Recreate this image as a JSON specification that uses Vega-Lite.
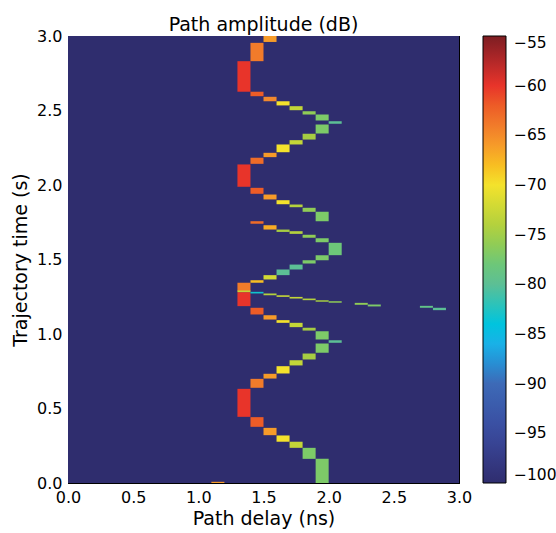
{
  "$schema": "https://vega.github.io/schema/vega-lite/v6.json",
  "width": 391,
  "height": 447,
  "autosize": {"type": "none"},
  "padding": {"left": 68, "top": 36, "right": 97, "bottom": 50},
  "background": "white",
  "config": {
    "font": "DejaVu Sans",
    "view": {"stroke": "black", "strokeWidth": 1},
    "axis": {"grid": false, "domainColor": "black", "tickColor": "black", "labelColor": "black", "titleColor": "black", "titleFontWeight": "normal", "labelFontSize": 16, "titleFontSize": 19, "labelFlush": false, "labelOverlap": false}
  },
  "title": {"text": "Path amplitude (dB)", "fontSize": 19, "fontWeight": "normal", "color": "black", "offset": -7, "anchor": "middle", "font": "DejaVu Sans"},
  "data": {"values": [
    {"x0": 0, "x1": 3, "t0": 0, "t1": 3, "db": -100},
    {"x0": 1.5, "x1": 1.6, "t0": 2.96, "t1": 3.0, "db": -66},
    {"x0": 1.4, "x1": 1.5, "t0": 2.831, "t1": 2.954, "db": -64},
    {"x0": 1.3, "x1": 1.4, "t0": 2.626, "t1": 2.831, "db": -60},
    {"x0": 1.4, "x1": 1.5, "t0": 2.596, "t1": 2.626, "db": -62},
    {"x0": 1.5, "x1": 1.6, "t0": 2.562, "t1": 2.592, "db": -65},
    {"x0": 1.6, "x1": 1.7, "t0": 2.534, "t1": 2.562, "db": -70},
    {"x0": 1.7, "x1": 1.8, "t0": 2.502, "t1": 2.529, "db": -73},
    {"x0": 1.8, "x1": 1.9, "t0": 2.473, "t1": 2.495, "db": -76},
    {"x0": 1.9, "x1": 2.0, "t0": 2.433, "t1": 2.473, "db": -77},
    {"x0": 2.0, "x1": 2.1, "t0": 2.411, "t1": 2.428, "db": -80},
    {"x0": 1.9, "x1": 2.0, "t0": 2.346, "t1": 2.406, "db": -77},
    {"x0": 1.8, "x1": 1.9, "t0": 2.305, "t1": 2.344, "db": -75},
    {"x0": 1.7, "x1": 1.8, "t0": 2.272, "t1": 2.301, "db": -73},
    {"x0": 1.6, "x1": 1.7, "t0": 2.22, "t1": 2.272, "db": -70},
    {"x0": 1.5, "x1": 1.6, "t0": 2.187, "t1": 2.216, "db": -66},
    {"x0": 1.4, "x1": 1.5, "t0": 2.142, "t1": 2.183, "db": -63},
    {"x0": 1.3, "x1": 1.4, "t0": 1.988, "t1": 2.138, "db": -60},
    {"x0": 1.4, "x1": 1.5, "t0": 1.941, "t1": 1.981, "db": -62},
    {"x0": 1.5, "x1": 1.6, "t0": 1.903, "t1": 1.936, "db": -66},
    {"x0": 1.6, "x1": 1.7, "t0": 1.871, "t1": 1.898, "db": -70},
    {"x0": 1.7, "x1": 1.8, "t0": 1.851, "t1": 1.869, "db": -74},
    {"x0": 1.8, "x1": 1.9, "t0": 1.82, "t1": 1.847, "db": -76},
    {"x0": 1.9, "x1": 2.0, "t0": 1.757, "t1": 1.82, "db": -77},
    {"x0": 1.4, "x1": 1.5, "t0": 1.74, "t1": 1.757, "db": -63},
    {"x0": 1.5, "x1": 1.6, "t0": 1.701, "t1": 1.73, "db": -67},
    {"x0": 1.6, "x1": 1.7, "t0": 1.685, "t1": 1.701, "db": -75},
    {"x0": 1.7, "x1": 1.8, "t0": 1.672, "t1": 1.69, "db": -74},
    {"x0": 1.8, "x1": 1.9, "t0": 1.646, "t1": 1.666, "db": -76},
    {"x0": 1.9, "x1": 2.0, "t0": 1.616, "t1": 1.643, "db": -77},
    {"x0": 2.0, "x1": 2.1, "t0": 1.529, "t1": 1.612, "db": -78},
    {"x0": 1.9, "x1": 2.0, "t0": 1.495, "t1": 1.529, "db": -77},
    {"x0": 1.8, "x1": 1.9, "t0": 1.473, "t1": 1.495, "db": -77},
    {"x0": 1.7, "x1": 1.8, "t0": 1.433, "t1": 1.466, "db": -80},
    {"x0": 1.6, "x1": 1.7, "t0": 1.395, "t1": 1.433, "db": -80},
    {"x0": 1.5, "x1": 1.6, "t0": 1.366, "t1": 1.395, "db": -72},
    {"x0": 1.4, "x1": 1.5, "t0": 1.344, "t1": 1.361, "db": -68},
    {"x0": 1.3, "x1": 1.4, "t0": 1.287, "t1": 1.344, "db": -64},
    {"x0": 1.3, "x1": 1.4, "t0": 1.187, "t1": 1.281, "db": -60},
    {"x0": 1.3, "x1": 1.4, "t0": 1.281, "t1": 1.292, "db": -73},
    {"x0": 1.4, "x1": 1.5, "t0": 1.272, "t1": 1.283, "db": -83},
    {"x0": 1.5, "x1": 1.6, "t0": 1.26, "t1": 1.272, "db": -74},
    {"x0": 1.6, "x1": 1.7, "t0": 1.249, "t1": 1.26, "db": -73},
    {"x0": 1.7, "x1": 1.8, "t0": 1.238, "t1": 1.249, "db": -73},
    {"x0": 1.8, "x1": 1.9, "t0": 1.227, "t1": 1.238, "db": -74},
    {"x0": 1.9, "x1": 2.0, "t0": 1.216, "t1": 1.227, "db": -75},
    {"x0": 2.0, "x1": 2.1, "t0": 1.21, "t1": 1.22, "db": -76},
    {"x0": 2.2, "x1": 2.3, "t0": 1.196, "t1": 1.209, "db": -76},
    {"x0": 2.3, "x1": 2.4, "t0": 1.185, "t1": 1.198, "db": -77},
    {"x0": 2.7, "x1": 2.8, "t0": 1.176, "t1": 1.189, "db": -79},
    {"x0": 2.8, "x1": 2.9, "t0": 1.16, "t1": 1.176, "db": -80},
    {"x0": 1.4, "x1": 1.5, "t0": 1.131, "t1": 1.176, "db": -62},
    {"x0": 1.5, "x1": 1.6, "t0": 1.097, "t1": 1.126, "db": -66},
    {"x0": 1.6, "x1": 1.7, "t0": 1.075, "t1": 1.093, "db": -70},
    {"x0": 1.7, "x1": 1.8, "t0": 1.046, "t1": 1.075, "db": -73},
    {"x0": 1.8, "x1": 1.9, "t0": 1.023, "t1": 1.042, "db": -75},
    {"x0": 1.9, "x1": 2.0, "t0": 0.963, "t1": 1.019, "db": -77},
    {"x0": 2.0, "x1": 2.1, "t0": 0.941, "t1": 0.958, "db": -80},
    {"x0": 1.9, "x1": 2.0, "t0": 0.874, "t1": 0.936, "db": -77},
    {"x0": 1.8, "x1": 1.9, "t0": 0.829, "t1": 0.869, "db": -75},
    {"x0": 1.7, "x1": 1.8, "t0": 0.789, "t1": 0.824, "db": -73},
    {"x0": 1.6, "x1": 1.7, "t0": 0.735, "t1": 0.784, "db": -70},
    {"x0": 1.5, "x1": 1.6, "t0": 0.701, "t1": 0.733, "db": -66},
    {"x0": 1.4, "x1": 1.5, "t0": 0.639, "t1": 0.699, "db": -64},
    {"x0": 1.3, "x1": 1.4, "t0": 0.444, "t1": 0.632, "db": -60},
    {"x0": 1.4, "x1": 1.5, "t0": 0.377, "t1": 0.442, "db": -62},
    {"x0": 1.5, "x1": 1.6, "t0": 0.321, "t1": 0.37, "db": -66},
    {"x0": 1.6, "x1": 1.7, "t0": 0.277, "t1": 0.319, "db": -70},
    {"x0": 1.7, "x1": 1.8, "t0": 0.236, "t1": 0.277, "db": -73},
    {"x0": 1.8, "x1": 1.9, "t0": 0.162, "t1": 0.236, "db": -77},
    {"x0": 1.9, "x1": 2.0, "t0": 0.0, "t1": 0.162, "db": -77},
    {"x0": 1.1, "x1": 1.2, "t0": 0.0, "t1": 0.008, "db": -66}
  ]},
  "layer": [
    {
      "mark": {"type": "rect"},
      "encoding": {
        "x": {"field": "x0", "type": "quantitative", "scale": {"domain": [0, 3], "nice": false, "zero": false},
              "axis": {"orient": "bottom", "values": [0, 0.5, 1, 1.5, 2, 2.5, 3], "format": ".1f", "tickSize": -6, "labelPadding": 12, "title": "Path delay (ns)", "titlePadding": 4}},
        "x2": {"field": "x1"},
        "y": {"field": "t0", "type": "quantitative", "scale": {"domain": [0, 3], "nice": false, "zero": false},
              "axis": {"orient": "left", "values": [0, 0.5, 1, 1.5, 2, 2.5, 3], "format": ".1f", "tickSize": -6, "labelPadding": 12, "title": "Trajectory time (s)", "titlePadding": 6}},
        "y2": {"field": "t1"},
        "color": {"field": "db", "type": "quantitative",
                  "scale": {"domain": [-100, -95, -90, -85, -80, -75, -70, -65, -60, -55],
                            "range": ["#2f2d6e", "#3a4a9e", "#3d6ab7", "#22c3ee", "#5cbf95", "#a6cc42", "#f4e22c", "#f2892e", "#e8342a", "#7d1e22"]},
                  "legend": {"title": null, "orient": "right", "direction": "vertical", "type": "gradient",
                             "values": [-55, -60, -65, -70, -75, -80, -85, -90, -95, -100],
                             "gradientLength": 447, "gradientThickness": 23, "gradientStrokeColor": "black", "gradientStrokeWidth": 1,
                             "labelFontSize": 15.5, "labelColor": "black", "labelOffset": 8, "labelFlush": false, "labelOverlap": false,
                             "offset": 23, "padding": 0}}
      }
    },
    {
      "mark": {"type": "rect", "opacity": 0},
      "encoding": {
        "x": {"field": "x0", "type": "quantitative", "axis": {"orient": "top", "values": [0, 0.5, 1, 1.5, 2, 2.5, 3], "labels": false, "title": null, "tickSize": -6}},
        "x2": {"field": "x1"},
        "y": {"field": "t0", "type": "quantitative", "axis": {"orient": "right", "values": [0, 0.5, 1, 1.5, 2, 2.5, 3], "labels": false, "title": null, "tickSize": -6}},
        "y2": {"field": "t1"}
      }
    }
  ],
  "resolve": {"axis": {"x": "independent", "y": "independent"}}
}
